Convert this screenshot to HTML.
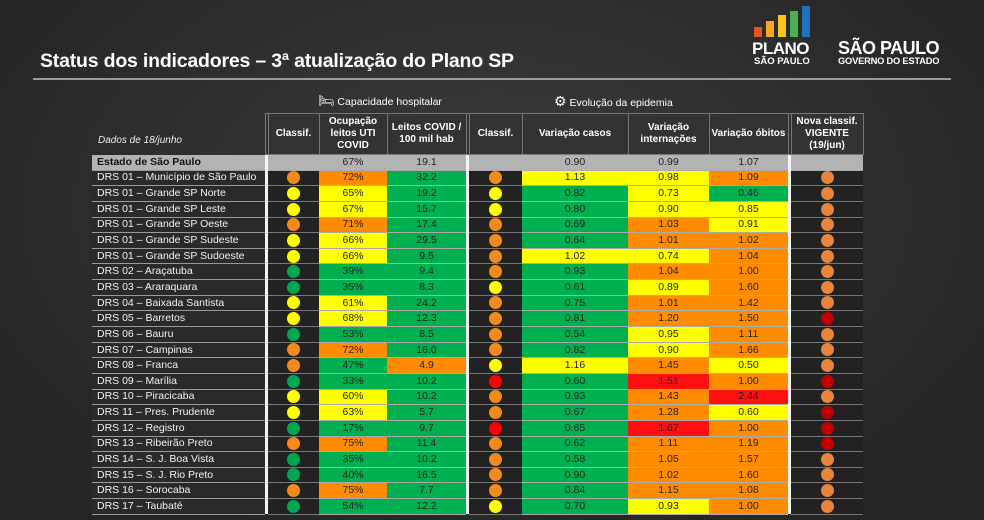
<!DOCTYPE html>
<html><head><meta charset="utf-8"><style>
*{margin:0;padding:0;box-sizing:border-box}
body{width:984px;height:520px;overflow:hidden;background:radial-gradient(ellipse at 50% 40%,#3c3c3c,#262626 80%);font-family:"Liberation Sans",sans-serif;position:relative}
.title{position:absolute;left:40px;top:50px;color:#fff;font-weight:bold;font-size:19.5px;letter-spacing:-0.2px}
.hr{position:absolute;left:33px;top:78px;width:918px;height:2px;background:#9a9a9a}
.sec{position:absolute;top:93px;color:#fff;font-size:10.5px}
table{position:absolute;left:92px;top:113px;border-collapse:collapse;table-layout:fixed}
td{font-size:10.5px;text-align:center;color:#222;border-bottom:1px solid #aaa;height:15.65px;padding:0;line-height:13px;overflow:hidden;white-space:nowrap}
tr.h td{height:41px;background:#333;color:#fff;font-weight:bold;font-size:10px;white-space:normal;line-height:12px;border:1px solid #777}
tr.h td.n{background:transparent;border:none;text-align:left;font-style:italic;font-weight:normal;padding:14px 0 0 6px;color:#eee}
td.n{text-align:left;padding-left:5px;color:#f2f2f2;background:#2a2a2a;border-bottom:1px solid #999}
td.w{background:#f4f4f4;border:none}
td.k{background:#222;border-bottom:1px solid #777}
tr.e td{background:#b3b3b3}
tr.e td.n{color:#111;font-weight:bold}
tr.e td.w{background:#f4f4f4}
.G{background:#00b050}.Y{background:#ffff00}.O{background:#ff8c00}.R{background:#ff1010}
i{display:inline-block;width:13px;height:13px;border-radius:50%;vertical-align:middle}
i.o{background:#f28a1c}i.y{background:#ffff00}i.g{background:#00a651}i.r{background:#f00}i.p{background:#e8843c}i.d{background:#c00000}
</style></head><body>
<div class="title">Status dos indicadores – 3ª atualização do Plano SP</div>
<div class="hr"></div>
<div class="sec" style="left:318px"><span style="font-size:13px">🛏</span> Capacidade hospitalar</div>
<div class="sec" style="left:554px"><span style="font-size:14px">⚙</span> Evolução da epidemia</div>
<div style="position:absolute;left:754px;top:7px;width:60px;height:30px">
<div style="position:absolute;left:0;bottom:0;width:8px;height:10px;background:#e8531f"></div>
<div style="position:absolute;left:12px;bottom:0;width:8px;height:16px;background:#f5a623"></div>
<div style="position:absolute;left:24px;bottom:0;width:8px;height:22px;background:#f8c51c"></div>
<div style="position:absolute;left:36px;bottom:0;width:8px;height:26px;background:#4caf50"></div>
<div style="position:absolute;left:48px;bottom:0;width:8px;height:31px;background:#1e73be"></div></div>
<div style="position:absolute;left:752px;top:39px;color:#fff;font-weight:bold;font-size:17px;letter-spacing:-0.5px">PLANO</div>
<div style="position:absolute;left:754px;top:56px;color:#fff;font-weight:bold;font-size:9.5px">SÃO PAULO</div>
<div style="position:absolute;left:838px;top:38px;color:#fff;font-weight:bold;font-size:18px;letter-spacing:-0.5px">SÃO PAULO</div>
<div style="position:absolute;left:838px;top:56px;color:#fff;font-weight:bold;font-size:9.3px;letter-spacing:-0.2px">GOVERNO DO ESTADO</div>
<table>
<colgroup><col style="width:173px"><col style="width:3px"><col style="width:51px"><col style="width:68px"><col style="width:79px"><col style="width:3px"><col style="width:53px"><col style="width:106px"><col style="width:81px"><col style="width:79px"><col style="width:3px"><col style="width:72px"></colgroup>
<tr class="h"><td class="n">Dados de 18/junho</td><td class="w"></td><td>Classif.</td><td>Ocupação leitos UTI COVID</td><td>Leitos COVID / 100 mil hab</td><td class="w"></td><td>Classif.</td><td>Variação casos</td><td>Variação internações</td><td>Variação óbitos</td><td class="w"></td><td>Nova classif. VIGENTE (19/jun)</td></tr>
<tr class="e"><td class="n">Estado de São Paulo</td><td class="w"></td><td></td><td class="Y">67%</td><td class="G">19.1</td><td class="w"></td><td></td><td class="G">0.90</td><td class="Y">0.99</td><td class="O">1.07</td><td class="w"></td><td></td></tr>
<tr><td class="n">DRS 01 – Município de São Paulo</td><td class="w"></td><td class="k"><i class="o"></i></td><td class="O">72%</td><td class="G">32.2</td><td class="w"></td><td class="k"><i class="o"></i></td><td class="Y">1.13</td><td class="Y">0.98</td><td class="O">1.09</td><td class="w"></td><td class="k"><i class="p"></i></td></tr>
<tr><td class="n">DRS 01 – Grande SP Norte</td><td class="w"></td><td class="k"><i class="y"></i></td><td class="Y">65%</td><td class="G">19.2</td><td class="w"></td><td class="k"><i class="y"></i></td><td class="G">0.82</td><td class="Y">0.73</td><td class="G">0.46</td><td class="w"></td><td class="k"><i class="p"></i></td></tr>
<tr><td class="n">DRS 01 – Grande SP Leste</td><td class="w"></td><td class="k"><i class="y"></i></td><td class="Y">67%</td><td class="G">15.7</td><td class="w"></td><td class="k"><i class="y"></i></td><td class="G">0.80</td><td class="Y">0.90</td><td class="Y">0.85</td><td class="w"></td><td class="k"><i class="p"></i></td></tr>
<tr><td class="n">DRS 01 – Grande SP Oeste</td><td class="w"></td><td class="k"><i class="o"></i></td><td class="O">71%</td><td class="G">17.4</td><td class="w"></td><td class="k"><i class="o"></i></td><td class="G">0.69</td><td class="O">1.03</td><td class="Y">0.91</td><td class="w"></td><td class="k"><i class="p"></i></td></tr>
<tr><td class="n">DRS 01 – Grande SP Sudeste</td><td class="w"></td><td class="k"><i class="y"></i></td><td class="Y">66%</td><td class="G">29.5</td><td class="w"></td><td class="k"><i class="o"></i></td><td class="G">0.64</td><td class="O">1.01</td><td class="O">1.02</td><td class="w"></td><td class="k"><i class="p"></i></td></tr>
<tr><td class="n">DRS 01 – Grande SP Sudoeste</td><td class="w"></td><td class="k"><i class="y"></i></td><td class="Y">66%</td><td class="G">9.5</td><td class="w"></td><td class="k"><i class="o"></i></td><td class="Y">1.02</td><td class="Y">0.74</td><td class="O">1.04</td><td class="w"></td><td class="k"><i class="p"></i></td></tr>
<tr><td class="n">DRS 02 – Araçatuba</td><td class="w"></td><td class="k"><i class="g"></i></td><td class="G">39%</td><td class="G">9.4</td><td class="w"></td><td class="k"><i class="o"></i></td><td class="G">0.93</td><td class="O">1.04</td><td class="O">1.00</td><td class="w"></td><td class="k"><i class="p"></i></td></tr>
<tr><td class="n">DRS 03 – Araraquara</td><td class="w"></td><td class="k"><i class="g"></i></td><td class="G">35%</td><td class="G">8.3</td><td class="w"></td><td class="k"><i class="y"></i></td><td class="G">0.61</td><td class="Y">0.89</td><td class="O">1.60</td><td class="w"></td><td class="k"><i class="p"></i></td></tr>
<tr><td class="n">DRS 04 – Baixada Santista</td><td class="w"></td><td class="k"><i class="y"></i></td><td class="Y">61%</td><td class="G">24.2</td><td class="w"></td><td class="k"><i class="o"></i></td><td class="G">0.75</td><td class="O">1.01</td><td class="O">1.42</td><td class="w"></td><td class="k"><i class="p"></i></td></tr>
<tr><td class="n">DRS 05 – Barretos</td><td class="w"></td><td class="k"><i class="y"></i></td><td class="Y">68%</td><td class="G">12.3</td><td class="w"></td><td class="k"><i class="o"></i></td><td class="G">0.81</td><td class="O">1.20</td><td class="O">1.50</td><td class="w"></td><td class="k"><i class="d"></i></td></tr>
<tr><td class="n">DRS 06 – Bauru</td><td class="w"></td><td class="k"><i class="g"></i></td><td class="G">53%</td><td class="G">8.5</td><td class="w"></td><td class="k"><i class="o"></i></td><td class="G">0.54</td><td class="Y">0.95</td><td class="O">1.11</td><td class="w"></td><td class="k"><i class="p"></i></td></tr>
<tr><td class="n">DRS 07 – Campinas</td><td class="w"></td><td class="k"><i class="o"></i></td><td class="O">72%</td><td class="G">16.0</td><td class="w"></td><td class="k"><i class="o"></i></td><td class="G">0.82</td><td class="Y">0.90</td><td class="O">1.66</td><td class="w"></td><td class="k"><i class="p"></i></td></tr>
<tr><td class="n">DRS 08 – Franca</td><td class="w"></td><td class="k"><i class="o"></i></td><td class="G">47%</td><td class="O">4.9</td><td class="w"></td><td class="k"><i class="y"></i></td><td class="Y">1.16</td><td class="O">1.45</td><td class="Y">0.50</td><td class="w"></td><td class="k"><i class="p"></i></td></tr>
<tr><td class="n">DRS 09 – Marília</td><td class="w"></td><td class="k"><i class="g"></i></td><td class="G">33%</td><td class="G">10.2</td><td class="w"></td><td class="k"><i class="r"></i></td><td class="G">0.60</td><td class="R">1.51</td><td class="O">1.00</td><td class="w"></td><td class="k"><i class="d"></i></td></tr>
<tr><td class="n">DRS 10 – Piracicaba</td><td class="w"></td><td class="k"><i class="y"></i></td><td class="Y">60%</td><td class="G">10.2</td><td class="w"></td><td class="k"><i class="o"></i></td><td class="G">0.93</td><td class="O">1.43</td><td class="R">2.44</td><td class="w"></td><td class="k"><i class="p"></i></td></tr>
<tr><td class="n">DRS 11 – Pres. Prudente</td><td class="w"></td><td class="k"><i class="y"></i></td><td class="Y">63%</td><td class="G">5.7</td><td class="w"></td><td class="k"><i class="o"></i></td><td class="G">0.67</td><td class="O">1.28</td><td class="Y">0.60</td><td class="w"></td><td class="k"><i class="d"></i></td></tr>
<tr><td class="n">DRS 12 – Registro</td><td class="w"></td><td class="k"><i class="g"></i></td><td class="G">17%</td><td class="G">9.7</td><td class="w"></td><td class="k"><i class="r"></i></td><td class="G">0.65</td><td class="R">1.67</td><td class="O">1.00</td><td class="w"></td><td class="k"><i class="d"></i></td></tr>
<tr><td class="n">DRS 13 – Ribeirão Preto</td><td class="w"></td><td class="k"><i class="o"></i></td><td class="O">75%</td><td class="G">11.4</td><td class="w"></td><td class="k"><i class="o"></i></td><td class="G">0.62</td><td class="O">1.11</td><td class="O">1.19</td><td class="w"></td><td class="k"><i class="d"></i></td></tr>
<tr><td class="n">DRS 14 – S. J. Boa Vista</td><td class="w"></td><td class="k"><i class="g"></i></td><td class="G">35%</td><td class="G">10.2</td><td class="w"></td><td class="k"><i class="o"></i></td><td class="G">0.58</td><td class="O">1.05</td><td class="O">1.57</td><td class="w"></td><td class="k"><i class="p"></i></td></tr>
<tr><td class="n">DRS 15 – S. J. Rio Preto</td><td class="w"></td><td class="k"><i class="g"></i></td><td class="G">40%</td><td class="G">16.5</td><td class="w"></td><td class="k"><i class="o"></i></td><td class="G">0.90</td><td class="O">1.02</td><td class="O">1.60</td><td class="w"></td><td class="k"><i class="p"></i></td></tr>
<tr><td class="n">DRS 16 – Sorocaba</td><td class="w"></td><td class="k"><i class="o"></i></td><td class="O">75%</td><td class="G">7.7</td><td class="w"></td><td class="k"><i class="o"></i></td><td class="G">0.84</td><td class="O">1.15</td><td class="O">1.08</td><td class="w"></td><td class="k"><i class="p"></i></td></tr>
<tr><td class="n">DRS 17 – Taubaté</td><td class="w"></td><td class="k"><i class="g"></i></td><td class="G">54%</td><td class="G">12.2</td><td class="w"></td><td class="k"><i class="y"></i></td><td class="G">0.70</td><td class="Y">0.93</td><td class="O">1.00</td><td class="w"></td><td class="k"><i class="p"></i></td></tr>
</table>
</body></html>
